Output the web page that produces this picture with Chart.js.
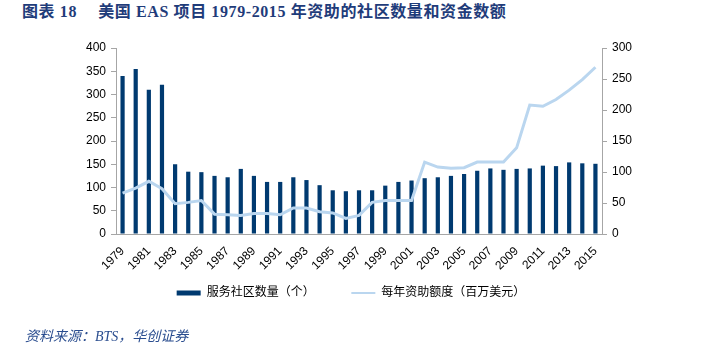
<!DOCTYPE html>
<html>
<head>
<meta charset="utf-8">
<script src="https://cdn.jsdelivr.net/npm/chart.js@4"></script>
<style>
  body { margin: 0; background: #fff; }
  #wrap { position: relative; width: 716px; height: 347px; overflow: hidden; }
  #title {
    position: absolute; left: 22px; top: -2px;
    font: bold 16px "Liberation Serif", "Noto Sans CJK SC", serif;
    letter-spacing: 0.6px;
    color: #1f3c7a; white-space: pre;
  }
  #source {
    position: absolute; left: 25px; top: 325px;
    font: italic 14px "Liberation Serif", "Noto Sans CJK SC", serif;
    color: #2a4d8f; white-space: pre;
  }
  #box { position: absolute; left: 0; top: 0; width: 716px; height: 347px; }
</style>
</head>
<body>
<div id="wrap">
  <div id="title">图表 18　 美国 EAS 项目 1979-2015 年资助的社区数量和资金数额</div>
  <div id="box"><canvas id="chart"></canvas></div>
  <div id="source">资料来源：BTS，华创证券</div>
</div>
<script>
const years = ['1979','1980','1981','1982','1983','1984','1985','1986','1987','1988',
  '1989','1990','1991','1992','1993','1994','1995','1996','1997','1998','1999','2000',
  '2001','2002','2003','2004','2005','2006','2007','2008','2009','2010','2011','2012',
  '2013','2014','2015'];

// 服务社区数量（个）
const communities = [340, 355, 310, 321, 150, 134, 133, 125, 122, 140,
  125, 112, 112, 122, 116, 105, 94, 92, 94, 94, 104, 112,
  115, 120, 122, 125, 129, 136, 141, 138, 140, 141, 147, 146,
  154, 152, 151];

// 每年资助额度（百万美元）
const funding = [66, 74, 85, 73, 49, 51, 54, 32, 31, 30,
  33, 33, 31, 42, 42, 36, 34, 25, 30, 51, 54, 54,
  54, 116, 108, 106, 107, 116, 116, 116, 139, 208, 206, 217,
  232, 249, 269];

const barColor = '#003a70';
const lineColor = '#bad6ef';
const axisColor = '#a6a6a6';
const tickFont = { family: '"Liberation Sans", Arial, sans-serif', size: 12 };

new Chart(document.getElementById('chart'), {
  data: {
    labels: years,
    datasets: [
      {
        type: 'line',
        label: '每年资助额度（百万美元）',
        data: funding,
        yAxisID: 'y1',
        borderColor: lineColor,
        backgroundColor: lineColor,
        borderWidth: 3,
        pointRadius: 0,
        tension: 0,
        order: 0
      },
      {
        type: 'bar',
        label: '服务社区数量（个）',
        data: communities,
        yAxisID: 'y',
        backgroundColor: barColor,
        categoryPercentage: 1,
        barPercentage: 0.32,
        order: 1
      }
    ]
  },
  options: {
    responsive: true,
    maintainAspectRatio: false,
    animation: false,
    layout: { padding: { left: 60, right: 74, top: 48, bottom: 38 } },
    plugins: {
      tooltip: { enabled: false },
      legend: {
        position: 'bottom',
        labels: {
          usePointStyle: true,
          pointStyleWidth: 24,
          boxHeight: 5,
          padding: 10,
          color: '#000',
          font: { family: '"Liberation Sans", "Noto Sans CJK SC", sans-serif', size: 12 },
          // trailing spaces widen the gap between the two entries
          generateLabels: function(chart) {
            return [
              { text: '服务社区数量（个）        ', fillStyle: barColor, strokeStyle: barColor,
                lineWidth: 0, pointStyle: 'rect', datasetIndex: 1 },
              { text: '每年资助额度（百万美元）', fillStyle: lineColor, strokeStyle: lineColor,
                lineWidth: 2, pointStyle: 'line', datasetIndex: 0 }
            ];
          }
        }
      }
    },
    scales: {
      x: {
        offset: true,
        grid: { display: false },
        border: { display: true, color: axisColor, width: 1 },
        ticks: {
          autoSkip: false,
          maxRotation: 45,
          minRotation: 45,
          color: '#000',
          font: tickFont,
          padding: 2,
          callback: function(val, i) { return i % 2 === 0 ? years[i] : ''; }
        },
        afterFit: function(scale) { scale.height = 43; }
      },
      y: {
        position: 'left',
        min: 0,
        max: 400,
        ticks: { stepSize: 50, color: '#000', font: tickFont, padding: 5 },
        grid: { drawOnChartArea: false, color: axisColor, tickLength: 5 },
        border: { color: axisColor },
        afterFit: function(scale) { scale.width = 56; }
      },
      y1: {
        position: 'right',
        min: 0,
        max: 300,
        ticks: { stepSize: 50, color: '#000', font: tickFont, padding: 5 },
        grid: { drawOnChartArea: false, color: axisColor, tickLength: 5 },
        border: { color: axisColor },
        afterFit: function(scale) { scale.width = 40; }
      }
    }
  }
});
</script>
</body>
</html>
